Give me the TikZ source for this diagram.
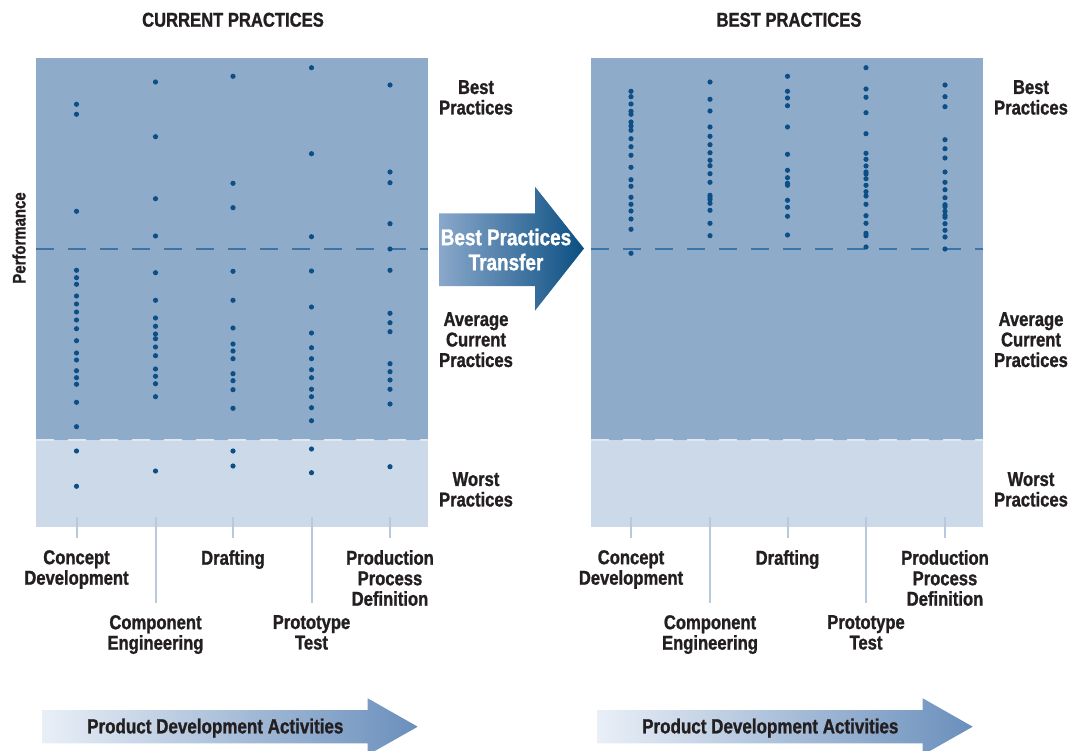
\documentclass[tikz,border=0pt]{standalone}
\usepackage{fontspec}
\newfontfamily\cnd[FakeStretch=0.83, BoldFeatures={FakeBold=1.2}]{Liberation Sans}
\definecolor{hiband}{HTML}{8FABCA}
\definecolor{loband}{HTML}{CCD9E8}
\definecolor{dotc}{HTML}{0B4F86}
\definecolor{dashc}{HTML}{3C74A8}
\definecolor{lodashc}{HTML}{E1E8F1}
\definecolor{tickc}{HTML}{B8C9DD}
\definecolor{txt}{HTML}{231F20}
\definecolor{xferlo}{HTML}{8AA8CB}
\definecolor{xferhi}{HTML}{0B4F82}
\definecolor{pdalo}{HTML}{E9EFF7}
\definecolor{pdamid}{HTML}{C8D6E7}
\definecolor{pdahi}{HTML}{6A8FBC}

\begin{document}
\begin{tikzpicture}[x=1pt, y=-1pt,
  lbl/.style={font=\cnd\bfseries\fontsize{20}{20.5}\selectfont, text=txt, align=center, inner sep=0pt, anchor=north},
  ttl/.style={lbl, font=\cnd\bfseries\fontsize{20}{20}\selectfont},
  dot/.style={fill=dotc},
  midline/.style={draw=dashc, line width=2pt, dash pattern=on 18pt off 14pt},
  lowline/.style={draw=lodashc, line width=2pt, dash pattern=on 18pt off 14pt},
  tick/.style={draw=tickc, line width=2pt},
  pda/.style={left color=pdalo, middle color=pdamid, right color=pdahi}]
  \useasboundingbox (0,0) rectangle (1075,751);
  \clip (0,0) rectangle (1075,751);

  \node[ttl] (CPT) at (233,12.5) {CURRENT PRACTICES};
  \node[ttl] (BPT) at (789,12.5) {BEST PRACTICES};
  \node[rotate=90, inner sep=0pt, text=txt, font=\cnd\bfseries\fontsize{18}{18}\selectfont] (PERF) at (19,238) {Performance};

  \fill[hiband] (36,58) rectangle (428,440);
  \fill[loband] (36,440) rectangle (428,527);
  \fill[hiband] (591,58) rectangle (983,440);
  \fill[loband] (591,440) rectangle (983,527);
  \draw[midline] (36,249) -- (428,249);
  \draw[midline] (591,249) -- (983,249);
  \draw[lowline] (36,440) -- (428,440);
  \draw[lowline] (591,440) -- (983,440);

  \foreach \px/\ylist in {
    76.5/{104.3,114.3,211.3,270.3,277.7,284.3,296,304,312,320,328.7,340.7,353,360,370.7,377.7,384.3,402.3,426.7,451,486.3},
    155.5/{82,136.7,198.7,236,272.7,300.3,318,326.3,334,338.7,347,355.7,369,376.3,383.7,396.7,471},
    233/{76.3,183.3,207.7,271.3,300.3,328,344,351,358.7,373.7,380.7,389.7,408.3,451,466},
    311.5/{67.7,153.7,236.7,271,307,333,347.7,358.7,369.7,377.7,389.3,396.7,407.7,420.7,449,472.7},
    390/{85,172,182.7,223.7,249,270.3,313.3,322.7,331.7,363.7,371.7,380,389.3,404,466.7},
    631/{91.3,96.7,104,111.3,114.3,122,126,130.3,138.7,146.7,155.3,167.3,179.7,186.3,197.3,204.3,211,219,229.3,253.3},
    710/{82,99.3,111,127,136.3,144.7,152.7,160.3,165.7,173.7,182.3,195.3,197.3,199.7,203.3,210.3,223.3,235.7},
    787.5/{76.3,91.3,98,105.7,127,154.3,170.3,177.7,183.3,185.3,200.3,207.3,216.3,235},
    866/{67.7,89,97.3,112.7,133.7,153.3,159.3,166,172,174,178.7,185.3,191.7,196,204.3,215.7,223.3,233.3,235.7,247},
    945/{85,96.7,106.7,139.7,148.7,158,172,182.3,189.7,197.7,204.7,206.7,211.3,215.3,217.3,223.7,230.3,237,249}}
    \foreach \py in \ylist
      \fill[dot] (\px,\py) circle (2.6);

  \node[lbl] (LBP) at (476,80) {Best\\Practices};
  \node[lbl] (LAP) at (476,312) {Average\\Current\\Practices};
  \node[lbl] (LWP) at (476,472) {Worst\\Practices};
  \node[lbl] (RBP) at (1031,80) {Best\\Practices};
  \node[lbl] (RAP) at (1031,312) {Average\\Current\\Practices};
  \node[lbl] (RWP) at (1031,472) {Worst\\Practices};

  \node[lbl] (LCD) at (76.5,550) {Concept\\Development};
  \node[lbl] (LCE) at (155.5,615) {Component\\Engineering};
  \node[lbl] (LDR) at (233,550) {Drafting};
  \node[lbl] (LPT) at (311.5,615) {Prototype\\Test};
  \node[lbl] (LPP) at (390,550) {Production\\Process\\Definition};
  \node[lbl] (RCD) at (631,550) {Concept\\Development};
  \node[lbl] (RCE) at (710,615) {Component\\Engineering};
  \node[lbl] (RDR) at (787.5,550) {Drafting};
  \node[lbl] (RPT) at (866,615) {Prototype\\Test};
  \node[lbl] (RPP) at (945,550) {Production\\Process\\Definition};

  \foreach \n in {LCD,LCE,LDR,LPT,LPP,RCD,RCE,RDR,RPT,RPP} {
    \coordinate (\n top) at (\n.north |- 0,517);
    \draw[tick] (\n top) -- ([yshift=12pt]\n.north);
  }

  \shade[left color=xferlo, middle color=xferhi, right color=xferhi]
    (439,213.3) -- (535,213.3) -- (535,186.7) -- (584,248.5) -- (535,310.7) -- (535,286) -- (439,286) -- cycle;
  \node[lbl, text=white, font=\cnd\bfseries\fontsize{22.8}{25}\selectfont] (XFR) at (506,228.5) {Best Practices\\Transfer};

  \shade[pda] (42.7,710) -- (367.7,710) -- (367.7,698.3) -- (417.7,726.7) -- (367.7,755) -- (367.7,743.3) -- (42.7,743.3) -- cycle;
  \shade[pda] (597.7,710) -- (922.7,710) -- (922.7,698.3) -- (972.7,726.7) -- (922.7,755) -- (922.7,743.3) -- (597.7,743.3) -- cycle;
  \node[lbl, font=\cnd\bfseries\fontsize{20.5}{20.5}\selectfont] (LPDA) at (215.3,718.3) {Product Development Activities};
  \node[lbl, font=\cnd\bfseries\fontsize{20.5}{20.5}\selectfont] (RPDA) at (770.3,718.3) {Product Development Activities};
\end{tikzpicture}
\end{document}
